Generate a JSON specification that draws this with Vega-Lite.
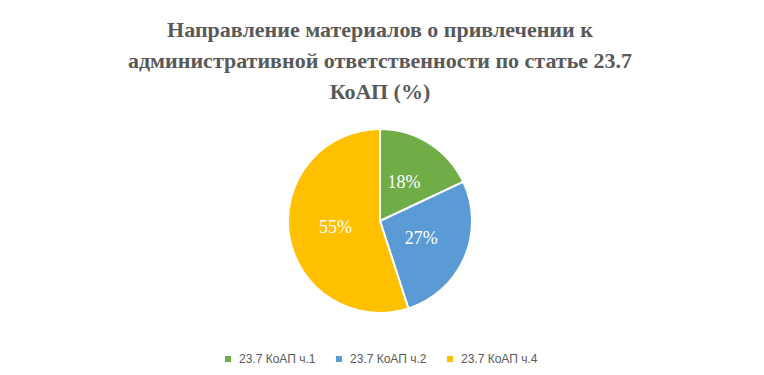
{
  "$schema": "https://vega.github.io/schema/vega-lite/v6.json",
  "width": 760,
  "height": 184,
  "autosize": {"type": "none"},
  "padding": {"top": 129, "bottom": 62, "left": 0, "right": 4},
  "background": "white",
  "title": {
    "text": ["Направление материалов о привлечении к", "административной  ответственности  по  статье  23.7", "КоАП (%)"],
    "font": "Liberation Serif",
    "fontSize": 22,
    "fontWeight": "bold",
    "color": "#595959",
    "lineHeight": 31,
    "anchor": "middle",
    "offset": 21
  },
  "data": {
    "values": [
      {"category": "23.7 КоАП ч.1", "value": 0.18},
      {"category": "23.7 КоАП ч.2", "value": 0.27},
      {"category": "23.7 КоАП ч.4", "value": 0.55}
    ]
  },
  "encoding": {
    "theta": {"field": "value", "type": "quantitative", "stack": true},
    "color": {
      "field": "category",
      "type": "nominal",
      "scale": {"domain": ["23.7 КоАП ч.1", "23.7 КоАП ч.2", "23.7 КоАП ч.4"], "range": ["#70AD47", "#5B9BD5", "#FFC000"]},
      "legend": {
        "orient": "bottom",
        "direction": "horizontal",
        "title": null,
        "offset": 40,
        "symbolType": "square",
        "symbolSize": 36,
        "symbolStrokeWidth": 0,
        "labelFont": "Liberation Sans",
        "labelFontSize": 12,
        "labelColor": "#595959",
        "columnPadding": 17,
        "labelOffset": 5
      }
    }
  },
  "layer": [
    {"mark": {"type": "arc", "stroke": "white", "strokeWidth": 2}},
    {
      "mark": {"type": "text", "radius": 45, "font": "Liberation Serif", "fontSize": 18, "color": "white", "fill": "white"},
      "encoding": {"text": {"field": "value", "type": "quantitative", "format": ".0%"}}
    }
  ],
  "config": {"view": {"stroke": null}, "legend": {"layout": {"bottom": {"anchor": "middle"}}}}
}
